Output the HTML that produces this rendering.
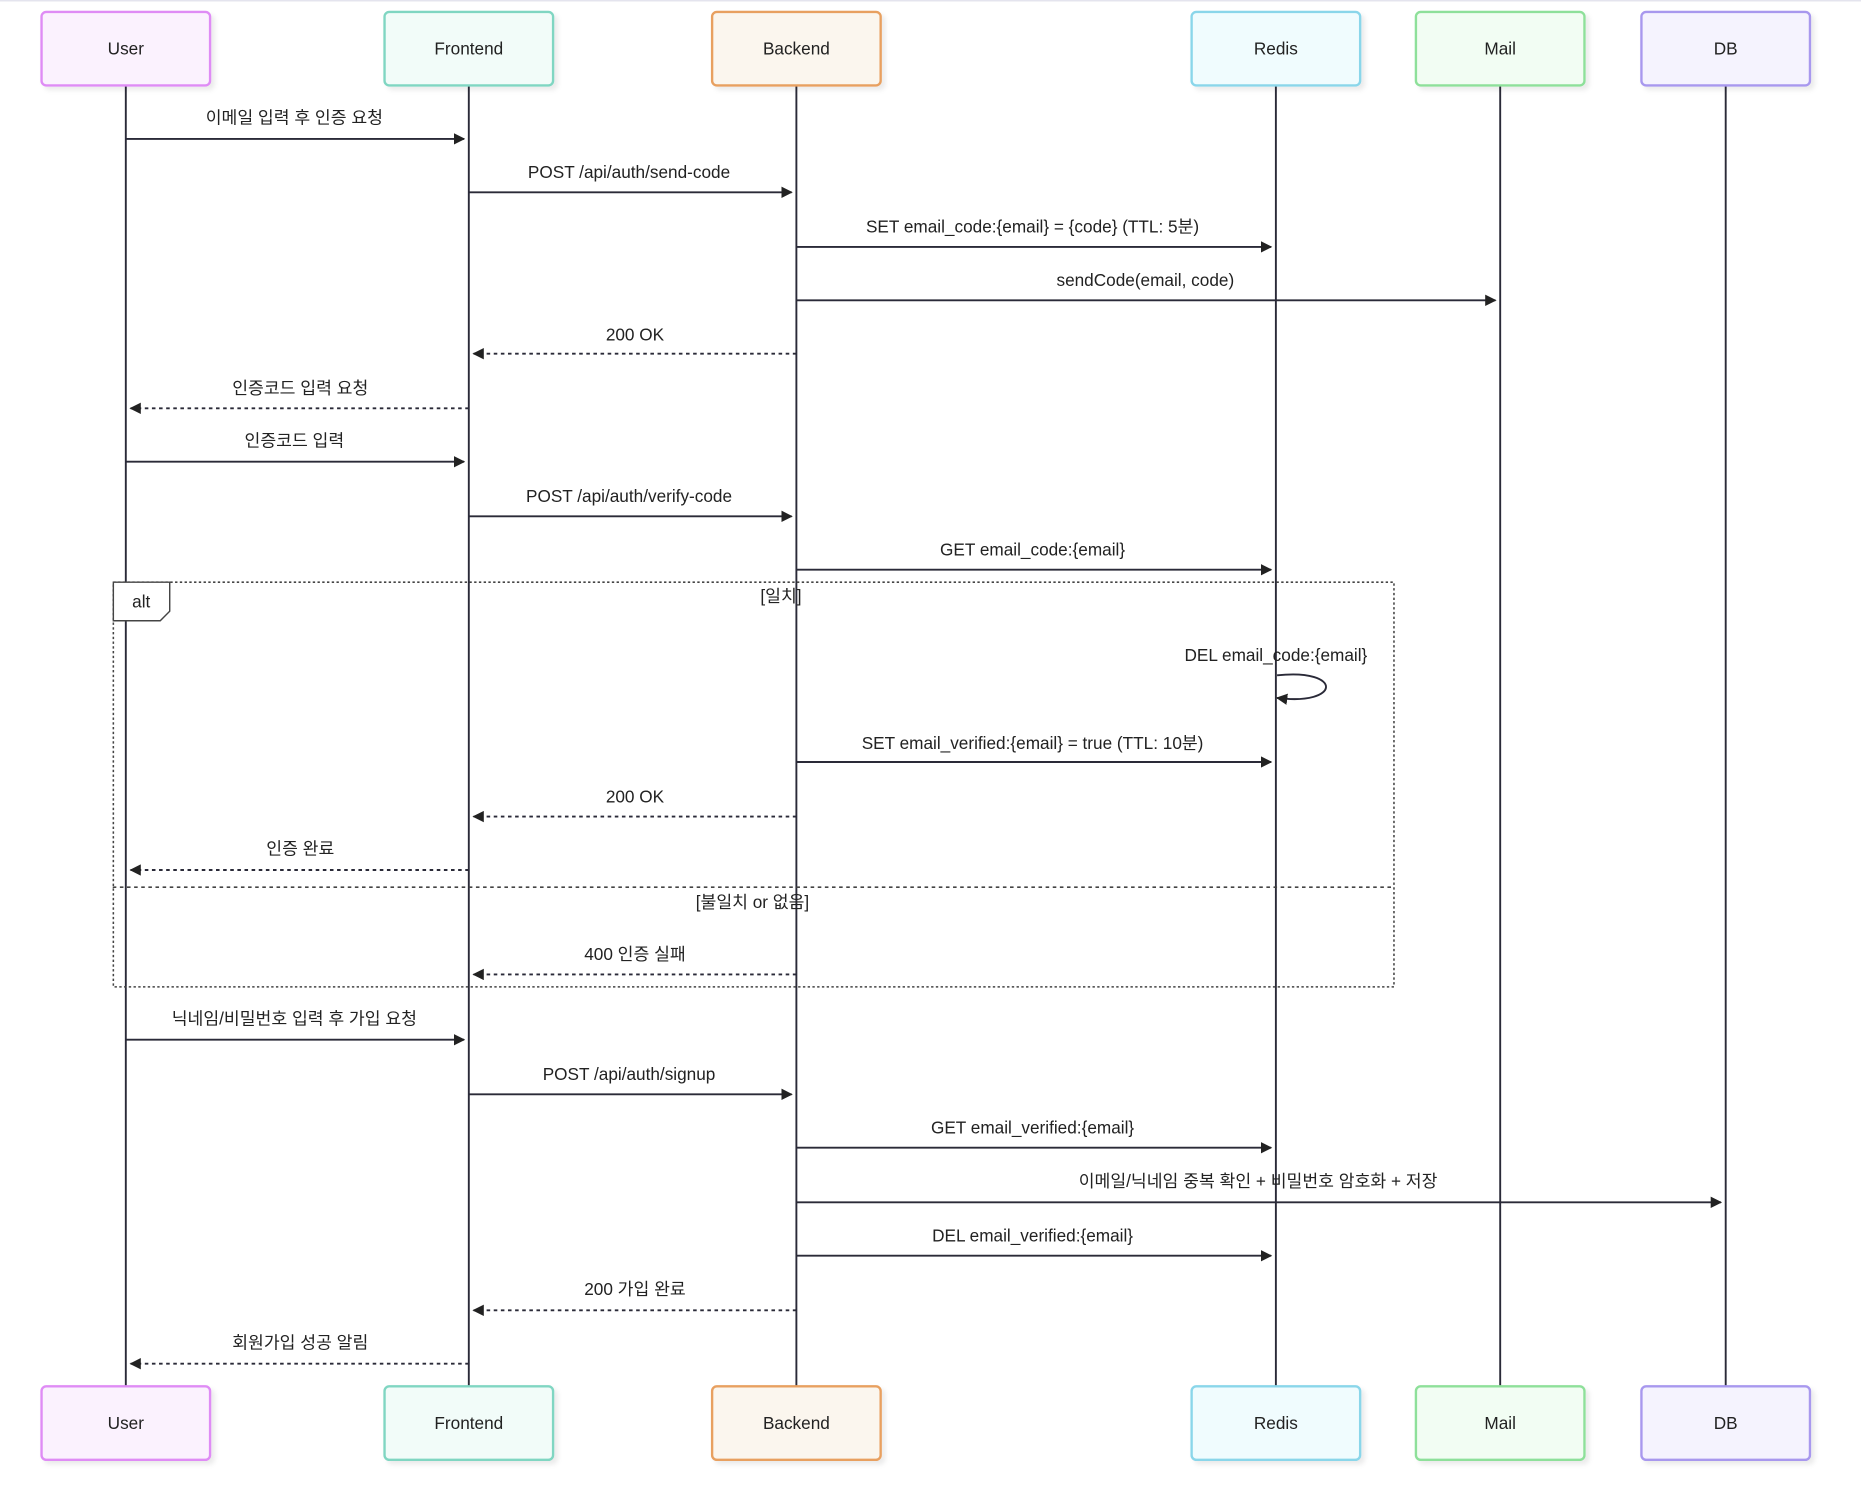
<!DOCTYPE html>
<html><head><meta charset="utf-8"><style>
html,body{margin:0;padding:0;background:#fff;}
svg{display:block;}
text{font-family:"Liberation Sans","Noto Sans CJK KR",sans-serif;font-size:14.5px;fill:#222;}
</style></head><body>
<svg width="1861" height="1505" viewBox="0 0 1568 1268" xmlns="http://www.w3.org/2000/svg">
<defs>
<marker id="a" viewBox="0 0 10 10" refX="9" refY="5" markerWidth="6" markerHeight="6" orient="auto"><path d="M0,0 L10,5 L0,10 z" fill="#222"/></marker>
<filter id="sh"><feDropShadow dx="3" dy="3" stdDeviation="2" flood-color="#000" flood-opacity="0.08"/></filter>
</defs>
<line x1="0" y1="0.5" x2="1568" y2="0.5" stroke="#e4e4ee" stroke-width="1.5"/>
<g stroke="#2a2a38" stroke-width="1.6">
<line x1="106" y1="72" x2="106" y2="1168"/><line x1="395" y1="72" x2="395" y2="1168"/><line x1="671" y1="72" x2="671" y2="1168"/>
<line x1="1075" y1="72" x2="1075" y2="1168"/><line x1="1264" y1="72" x2="1264" y2="1168"/><line x1="1454" y1="72" x2="1454" y2="1168"/>
</g>
<g stroke-width="2" filter="url(#sh)">
<rect x="35" y="10" width="142" height="62" rx="4" fill="#fbf2fe" stroke="#df8cf5"/>
<rect x="324" y="10" width="142" height="62" rx="4" fill="#f2fcf9" stroke="#80d6c2"/>
<rect x="600" y="10" width="142" height="62" rx="4" fill="#fbf6ee" stroke="#e8a060"/>
<rect x="1004" y="10" width="142" height="62" rx="4" fill="#f0fcfe" stroke="#8ad6ea"/>
<rect x="1193" y="10" width="142" height="62" rx="4" fill="#f2fdf3" stroke="#8ee09a"/>
<rect x="1383" y="10" width="142" height="62" rx="4" fill="#f5f3fe" stroke="#a898ee"/>
<rect x="35" y="1168" width="142" height="62" rx="4" fill="#fbf2fe" stroke="#df8cf5"/>
<rect x="324" y="1168" width="142" height="62" rx="4" fill="#f2fcf9" stroke="#80d6c2"/>
<rect x="600" y="1168" width="142" height="62" rx="4" fill="#fbf6ee" stroke="#e8a060"/>
<rect x="1004" y="1168" width="142" height="62" rx="4" fill="#f0fcfe" stroke="#8ad6ea"/>
<rect x="1193" y="1168" width="142" height="62" rx="4" fill="#f2fdf3" stroke="#8ee09a"/>
<rect x="1383" y="1168" width="142" height="62" rx="4" fill="#f5f3fe" stroke="#a898ee"/>
</g>
<g text-anchor="middle" font-size="15">
<text x="106" y="46">User</text><text x="395" y="46">Frontend</text><text x="671" y="46">Backend</text><text x="1075" y="46">Redis</text><text x="1264" y="46">Mail</text><text x="1454" y="46">DB</text>
<text x="106" y="1204">User</text><text x="395" y="1204">Frontend</text><text x="671" y="1204">Backend</text><text x="1075" y="1204">Redis</text><text x="1264" y="1204">Mail</text><text x="1454" y="1204">DB</text>
</g>
<rect x="95.5" y="490.5" width="1079" height="341" fill="none" stroke="#444" stroke-width="1.3" stroke-dasharray="2,2"/>
<path d="M95.5,490.5 H143 V515 L135,523 H95.5 Z" fill="#fff" stroke="#444" stroke-width="1.2"/>
<text x="119" y="512" text-anchor="middle">alt</text>
<line x1="95" y1="747.5" x2="1175" y2="747.5" stroke="#444" stroke-width="1.3" stroke-dasharray="3,3"/>
<g text-anchor="middle">
<text x="658" y="507">[일치]</text>
<text x="634" y="765">[불일치 or 없음]</text>
</g>
<g stroke="#2a2a38" stroke-width="1.6" fill="none" marker-end="url(#a)">
<line x1="106" y1="117" x2="391" y2="117"/>
<line x1="395" y1="162" x2="667" y2="162"/>
<line x1="671" y1="208" x2="1071" y2="208"/>
<line x1="671" y1="253" x2="1260" y2="253"/>
<line x1="671" y1="298" x2="399" y2="298" stroke-dasharray="3,3"/>
<line x1="395" y1="344" x2="110" y2="344" stroke-dasharray="3,3"/>
<line x1="106" y1="389" x2="391" y2="389"/>
<line x1="395" y1="435" x2="667" y2="435"/>
<line x1="671" y1="480" x2="1071" y2="480"/>
<path d="M1076,569 C1132,563 1130,595 1076,588"/>
<line x1="671" y1="642" x2="1071" y2="642"/>
<line x1="671" y1="688" x2="399" y2="688" stroke-dasharray="3,3"/>
<line x1="395" y1="733" x2="110" y2="733" stroke-dasharray="3,3"/>
<line x1="671" y1="821" x2="399" y2="821" stroke-dasharray="3,3"/>
<line x1="106" y1="876" x2="391" y2="876"/>
<line x1="395" y1="922" x2="667" y2="922"/>
<line x1="671" y1="967" x2="1071" y2="967"/>
<line x1="671" y1="1013" x2="1450" y2="1013"/>
<line x1="671" y1="1058" x2="1071" y2="1058"/>
<line x1="671" y1="1104" x2="399" y2="1104" stroke-dasharray="3,3"/>
<line x1="395" y1="1149" x2="110" y2="1149" stroke-dasharray="3,3"/>
</g>
<g text-anchor="middle">
<text x="248" y="104">이메일 입력 후 인증 요청</text>
<text x="530" y="150">POST /api/auth/send-code</text>
<text x="870" y="196">SET email_code:{email} = {code} (TTL: 5분)</text>
<text x="965" y="241">sendCode(email, code)</text>
<text x="535" y="287">200 OK</text>
<text x="253" y="332">인증코드 입력 요청</text>
<text x="248" y="376">인증코드 입력</text>
<text x="530" y="423">POST /api/auth/verify-code</text>
<text x="870" y="468">GET email_code:{email}</text>
<text x="1075" y="557">DEL email_code:{email}</text>
<text x="870" y="631">SET email_verified:{email} = true (TTL: 10분)</text>
<text x="535" y="676">200 OK</text>
<text x="253" y="720">인증 완료</text>
<text x="535" y="809">400 인증 실패</text>
<text x="248" y="863">닉네임/비밀번호 입력 후 가입 요청</text>
<text x="530" y="910">POST /api/auth/signup</text>
<text x="870" y="955">GET email_verified:{email}</text>
<text x="1060" y="1000">이메일/닉네임 중복 확인 + 비밀번호 암호화 + 저장</text>
<text x="870" y="1046">DEL email_verified:{email}</text>
<text x="535" y="1091">200 가입 완료</text>
<text x="253" y="1136">회원가입 성공 알림</text>
</g>
</svg>
</body></html>
